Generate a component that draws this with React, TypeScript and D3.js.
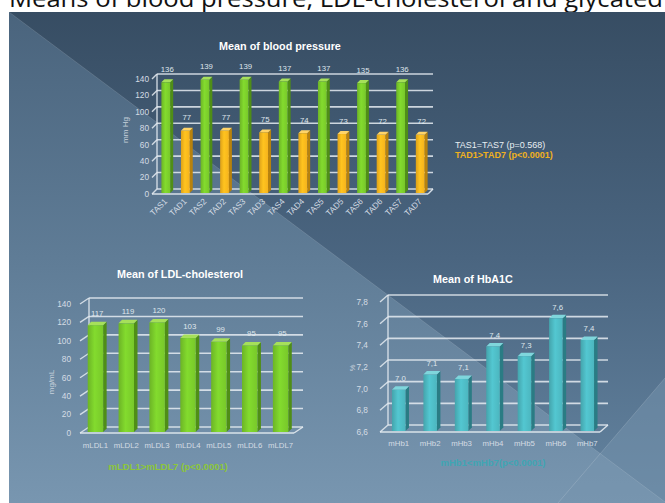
import React from 'react';
import * as d3 from 'd3';

// ---------- data ----------
const bpCategories = ['TAS1', 'TAD1', 'TAS2', 'TAD2', 'TAS3', 'TAD3', 'TAS4', 'TAD4', 'TAS5', 'TAD5', 'TAS6', 'TAD6', 'TAS7', 'TAD7'];
const bpValues = [136, 77, 139, 77, 139, 75, 137, 74, 137, 73, 135, 72, 136, 72];
const bpValueLabels = ['136', '77', '139', '77', '139', '75', '137', '74', '137', '73', '135', '72', '136', '72'];
const bpTicks = [0, 20, 40, 60, 80, 100, 120, 140];

const ldlCategories = ['mLDL1', 'mLDL2', 'mLDL3', 'mLDL4', 'mLDL5', 'mLDL6', 'mLDL7'];
const ldlValues = [117, 119, 120, 103, 99, 95, 95];
const ldlValueLabels = ['117', '119', '120', '103', '99', '95', '95'];
const ldlTicks = [0, 20, 40, 60, 80, 100, 120, 140];

const hbCategories = ['mHb1', 'mHb2', 'mHb3', 'mHb4', 'mHb5', 'mHb6', 'mHb7'];
const hbValues = [6.99, 7.13, 7.09, 7.39, 7.3, 7.65, 7.45];
const hbValueLabels = ['7,0', '7,1', '7,1', '7,4', '7,3', '7,6', '7,4'];
const hbTicks = [6.6, 6.8, 7.0, 7.2, 7.4, 7.6, 7.8];

const FONT = "'Liberation Sans', Arial, sans-serif";

type Shade = { front: string; side: string; top: string; id: string };
const GREEN: Shade = { front: '#78c82a', side: '#4f8e16', top: '#a6e05a', id: 'g' };
const ORANGE: Shade = { front: '#f6b31c', side: '#b8820c', top: '#ffd468', id: 'o' };
const TEAL: Shade = { front: '#4cb6bf', side: '#2a7c84', top: '#7fd6dc', id: 't' };

type ChartProps = {
  cats: string[];
  vals: number[];
  valLabels: string[];
  ticks: number[];
  tickFmt: (t: number) => string;
  yDomain: [number, number];
  yBottom: number;
  yTop: number;
  x0: number;
  x1: number;
  dx: number;
  dy: number;
  band: [number, number];
  padInner: number;
  shade: (i: number) => Shade;
  depth: number;
  rotateX: boolean;
  xLabelY: number;
  valueDy: number;
  tickX: number;
};

function Chart3D(p: ChartProps) {
  const y = d3.scaleLinear().domain(p.yDomain).range([p.yBottom, p.yTop]);
  const x = d3
    .scaleBand<string>()
    .domain(p.cats)
    .range(p.band)
    .paddingInner(p.padInner)
    .paddingOuter(p.padInner / 2);
  const bw = x.bandwidth();
  const d = p.depth;
  const gridColor = '#e6ecf2';
  const yMin = y(p.yDomain[0]);
  const yMax = y(p.yDomain[1]);
  return (
    <g>
      {p.ticks.map((t) => {
        const yy = y(t);
        return (
          <g key={'g' + t}>
            <line x1={p.x0} y1={yy} x2={p.x0 + p.dx} y2={yy + p.dy} stroke={gridColor} strokeWidth={1.4} opacity={0.85} />
            <line x1={p.x0 + p.dx} y1={yy + p.dy} x2={p.x1 + p.dx} y2={yy + p.dy} stroke={gridColor} strokeWidth={1.6} opacity={0.85} />
          </g>
        );
      })}
      <line x1={p.x0 + p.dx} y1={yMin + p.dy} x2={p.x0 + p.dx} y2={yMax + p.dy} stroke={gridColor} strokeWidth={1.4} opacity={0.85} />
      <line x1={p.x0} y1={yMin} x2={p.x1} y2={yMin} stroke={gridColor} strokeWidth={1.6} opacity={0.9} />
      <line x1={p.x1} y1={yMin} x2={p.x1 + p.dx} y2={yMin + p.dy} stroke={gridColor} strokeWidth={1.4} opacity={0.9} />
      {p.cats.map((c, i) => {
        const s = p.shade(i);
        const left = x(c) as number;
        const right = left + bw;
        const top = y(p.vals[i]);
        const bottom = yMin - 1;
        return (
          <g key={'b' + c}>
            <polygon
              points={`${right},${top} ${right + d},${top - d} ${right + d},${bottom - d} ${right},${bottom}`}
              fill={s.side}
            />
            <polygon
              points={`${left},${top} ${left + d},${top - d} ${right + d},${top - d} ${right},${top}`}
              fill={s.top}
            />
            <rect x={left} y={top} width={bw} height={bottom - top} fill={`url(#grad-${s.id})`} />
          </g>
        );
      })}
      {p.cats.map((c, i) => (
        <text
          key={'v' + c}
          x={(x(c) as number) + bw / 2 + d / 2}
          y={y(p.vals[i]) + p.valueDy}
          textAnchor="middle"
          fontSize={7.8}
          fill="#dfe6ec"
          fontFamily={FONT}
        >
          {p.valLabels[i]}
        </text>
      ))}
      {p.ticks.map((t) => (
        <text key={'t' + t} x={p.tickX} y={y(t) + 2.9} textAnchor="end" fontSize={8.3} fill="#d4dce4" fontFamily={FONT}>
          {p.tickFmt(t)}
        </text>
      ))}
      {p.cats.map((c) => {
        const cx = (x(c) as number) + bw / 2;
        return p.rotateX ? (
          <text
            key={'x' + c}
            transform={`translate(${cx + 2},${p.xLabelY}) rotate(-45)`}
            textAnchor="end"
            fontSize={8.3}
            fill="#d4dce4"
            fontFamily={FONT}
          >
            {c}
          </text>
        ) : (
          <text key={'x' + c} x={cx} y={p.xLabelY} textAnchor="middle" fontSize={7.8} fill="#d4dce4" fontFamily={FONT}>
            {c}
          </text>
        );
      })}
    </g>
  );
}

function Gradients() {
  const shades = [GREEN, ORANGE, TEAL];
  return (
    <>
      {shades.map((s) => (
        <linearGradient key={s.id} id={`grad-${s.id}`} x1="0" y1="0" x2="1" y2="0">
          <stop offset="0" stopColor={d3.color(s.front)!.darker(0.3).formatHex()} />
          <stop offset="0.45" stopColor={d3.color(s.front)!.brighter(0.25).formatHex()} />
          <stop offset="1" stopColor={s.front} />
        </linearGradient>
      ))}
      <linearGradient id="bgUpper" x1="0" y1="0" x2="0" y2="1">
        <stop offset="0" stopColor="#374d63" />
        <stop offset="0.5" stopColor="#4a6580" />
        <stop offset="1" stopColor="#6484a0" />
      </linearGradient>
      <linearGradient id="bgLower" x1="0" y1="0" x2="0" y2="1">
        <stop offset="0" stopColor="#4a647d" />
        <stop offset="0.5" stopColor="#5f7c96" />
        <stop offset="1" stopColor="#7896b0" />
      </linearGradient>
    </>
  );
}

export default function App() {
  const fmtComma = (t: number) => t.toFixed(1).replace('.', ',');
  return (
    <svg
      width={665}
      height={503}
      viewBox="0 0 665 503"
      style={{ position: 'absolute', left: 0, top: 0, background: '#ffffff' }}
    >
      <defs>
        <Gradients />
      </defs>
      <text x={9} y={7} fontSize={24} fill="#111" fontFamily="'Open Sans', sans-serif" textLength={654} lengthAdjust="spacingAndGlyphs">
        Means of blood pressure, LDL-cholesterol and glycated
      </text>
      <rect x={9} y={12} width={656} height={491} fill="url(#bgUpper)" />
      <polygon points="9,12 665,502 665,503 9,503" fill="url(#bgLower)" />
      <polygon points="665,378 665,503 558,503" fill="#7593ad" opacity={0.5} />
      <line x1={9} y1={12} x2={665} y2={502} stroke="#ffffff" strokeOpacity={0.12} strokeWidth={1} />
      <line x1={665} y1={378} x2={558} y2={503} stroke="#ffffff" strokeOpacity={0.15} strokeWidth={1} />

      {/* Chart 1: blood pressure */}
      <text x={280} y={50} textAnchor="middle" fontSize={10.8} fontWeight="bold" fill="#ffffff" fontFamily={FONT}>
        Mean of blood pressure
      </text>
      <text transform="translate(128,130) rotate(-90)" textAnchor="middle" fontSize={8} fill="#c8d2dc" fontFamily={FONT}>
        mm Hg
      </text>
      <Chart3D
        cats={bpCategories}
        vals={bpValues}
        valLabels={bpValueLabels}
        ticks={bpTicks}
        tickFmt={(t) => String(t)}
        yDomain={[0, 140]}
        yBottom={194}
        yTop={79}
        x0={152}
        x1={428}
        dx={5}
        dy={-5}
        band={[156, 430]}
        padInner={0.55}
        shade={(i) => (i % 2 === 0 ? GREEN : ORANGE)}
        depth={3}
        rotateX={true}
        xLabelY={202}
        valueDy={-10.5}
        tickX={149}
      />
      <text x={455} y={148} fontSize={9} fill="#e8eef2" fontFamily={FONT}>
        TAS1=TAS7  (p=0.568)
      </text>
      <text x={455} y={157.5} fontSize={9} fill="#f0b11e" fontWeight="bold" fontFamily={FONT}>
        TAD1&gt;TAD7 (p&lt;0.0001)
      </text>

      {/* Chart 2: LDL */}
      <text x={180} y={278} textAnchor="middle" fontSize={10.8} fontWeight="bold" fill="#ffffff" fontFamily={FONT}>
        Mean of LDL-cholesterol
      </text>
      <text transform="translate(54,382) rotate(-90)" textAnchor="middle" fontSize={8} fill="#c8d2dc" fontFamily={FONT}>
        mg/mL
      </text>
      <Chart3D
        cats={ldlCategories}
        vals={ldlValues}
        valLabels={ldlValueLabels}
        ticks={ldlTicks}
        tickFmt={(t) => String(t)}
        yDomain={[0, 140]}
        yBottom={433}
        yTop={304}
        x0={80}
        x1={294}
        dx={9}
        dy={-6}
        band={[80, 296]}
        padInner={0.5}
        shade={() => GREEN}
        depth={3.5}
        rotateX={false}
        xLabelY={448}
        valueDy={-9.5}
        tickX={71}
      />
      <text x={168} y={470} textAnchor="middle" fontSize={9.5} fontWeight="bold" fill="#8cc63a" fontFamily={FONT}>
        mLDL1&gt;mLDL7 (p&lt;0.0001)
      </text>

      {/* Chart 3: HbA1c */}
      <text x={473} y={283} textAnchor="middle" fontSize={10.8} fontWeight="bold" fill="#ffffff" fontFamily={FONT}>
        Mean of HbA1C
      </text>
      <text transform="translate(355,368) rotate(-90)" textAnchor="middle" fontSize={7.5} fill="#c8d2dc" fontFamily={FONT}>
        %
      </text>
      <Chart3D
        cats={hbCategories}
        vals={hbValues}
        valLabels={hbValueLabels}
        ticks={hbTicks}
        tickFmt={fmtComma}
        yDomain={[6.6, 7.8]}
        yBottom={432}
        yTop={302}
        x0={380}
        x1={600}
        dx={8}
        dy={-7}
        band={[383, 603]}
        padInner={0.57}
        shade={() => TEAL}
        depth={3.5}
        rotateX={false}
        xLabelY={446}
        valueDy={-8.5}
        tickX={368}
      />
      <text x={493} y={466} textAnchor="middle" fontSize={9.5} fontWeight="bold" fill="#3fa6b4" fontFamily={FONT}>
        mHb1&lt;mHb7(p&lt;0.0001)
      </text>
    </svg>
  );
}
